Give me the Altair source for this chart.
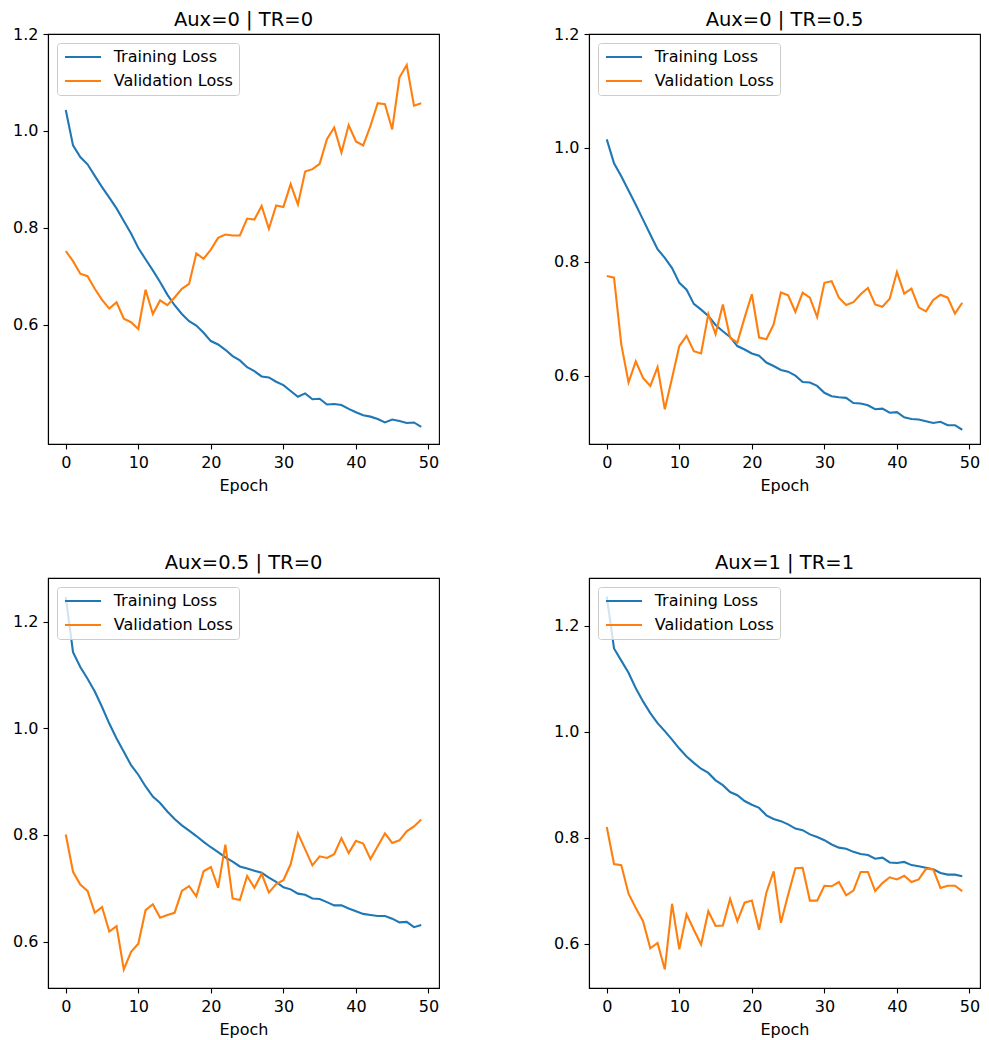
import altair as alt
import pandas as pd

epochs = list(range(50))
titles = ["Aux=0 | TR=0", "Aux=0 | TR=0.5", "Aux=0.5 | TR=0", "Aux=1 | TR=1"]
series_names = ["Training Loss", "Validation Loss"]
colors = ["#1f77b4", "#ff7f0e"]
x_ticks = [0, 10, 20, 30, 40, 50]
y_ticks = [0.6, 0.8, 1.0, 1.2]

tr1 = [1.043, 0.970, 0.946, 0.931, 0.907, 0.884, 0.862, 0.840, 0.814, 0.788,
       0.758, 0.735, 0.712, 0.688, 0.662, 0.640, 0.622, 0.607, 0.598, 0.583,
       0.566, 0.559, 0.548, 0.535, 0.526, 0.512, 0.504, 0.493, 0.491, 0.482,
       0.475, 0.463, 0.451, 0.458, 0.446, 0.447, 0.435, 0.436, 0.434, 0.426,
       0.419, 0.413, 0.410, 0.405, 0.398, 0.404, 0.401, 0.397, 0.398, 0.389]
va1 = [0.752, 0.731, 0.705, 0.700, 0.674, 0.651, 0.633, 0.646, 0.612, 0.605,
       0.591, 0.672, 0.622, 0.650, 0.640, 0.656, 0.674, 0.684, 0.747, 0.736,
       0.755, 0.779, 0.786, 0.784, 0.784, 0.819, 0.817, 0.845, 0.798, 0.846,
       0.843, 0.890, 0.848, 0.916, 0.921, 0.932, 0.983, 1.007, 0.955, 1.012,
       0.978, 0.970, 1.010, 1.057, 1.055, 1.003, 1.110, 1.136, 1.052, 1.057]

tr2 = [1.015, 0.973, 0.950, 0.925, 0.900, 0.874, 0.848, 0.822, 0.807, 0.789,
       0.763, 0.751, 0.726, 0.716, 0.705, 0.689, 0.678, 0.668, 0.652, 0.646,
       0.639, 0.635, 0.623, 0.617, 0.610, 0.607, 0.600, 0.589, 0.588, 0.582,
       0.570, 0.564, 0.562, 0.561, 0.552, 0.551, 0.548, 0.541, 0.542, 0.535,
       0.536, 0.527, 0.524, 0.523, 0.520, 0.517, 0.519, 0.513, 0.513, 0.505]
va2 = [0.775, 0.772, 0.655, 0.588, 0.625, 0.596, 0.582, 0.615, 0.541, 0.596,
       0.652, 0.670, 0.643, 0.639, 0.708, 0.673, 0.725, 0.667, 0.658, 0.702,
       0.743, 0.667, 0.664, 0.690, 0.746, 0.741, 0.712, 0.746, 0.737, 0.703,
       0.763, 0.766, 0.737, 0.724, 0.729, 0.743, 0.754, 0.725, 0.721, 0.735,
       0.782, 0.744, 0.753, 0.720, 0.713, 0.733, 0.742, 0.737, 0.709, 0.728]

tr3 = [1.246, 1.143, 1.115, 1.093, 1.069, 1.040, 1.009, 0.981, 0.956, 0.931,
       0.913, 0.891, 0.872, 0.860, 0.844, 0.830, 0.818, 0.808, 0.798, 0.787,
       0.777, 0.768, 0.758, 0.750, 0.741, 0.737, 0.733, 0.729, 0.720, 0.712,
       0.702, 0.698, 0.690, 0.688, 0.681, 0.680, 0.674, 0.668, 0.668, 0.662,
       0.657, 0.652, 0.650, 0.648, 0.648, 0.643, 0.636, 0.637, 0.627, 0.631]
va3 = [0.801, 0.731, 0.707, 0.695, 0.654, 0.665, 0.619, 0.629, 0.548, 0.581,
       0.596, 0.659, 0.670, 0.645, 0.650, 0.654, 0.695, 0.704, 0.685, 0.732,
       0.740, 0.701, 0.782, 0.681, 0.678, 0.723, 0.701, 0.727, 0.692, 0.708,
       0.715, 0.745, 0.803, 0.773, 0.743, 0.760, 0.757, 0.764, 0.794, 0.766,
       0.789, 0.784, 0.755, 0.779, 0.803, 0.785, 0.790, 0.807, 0.816, 0.829]

tr4 = [1.255, 1.157, 1.134, 1.111, 1.082, 1.057, 1.035, 1.016, 1.001, 0.985,
       0.968, 0.953, 0.941, 0.930, 0.922, 0.908, 0.899, 0.886, 0.880, 0.869,
       0.862, 0.856, 0.842, 0.835, 0.831, 0.825, 0.817, 0.814, 0.806, 0.801,
       0.795, 0.787, 0.781, 0.779, 0.773, 0.769, 0.767, 0.760, 0.762, 0.753,
       0.752, 0.754, 0.748, 0.746, 0.743, 0.740, 0.733, 0.730, 0.730, 0.727]
va4 = [0.820, 0.750, 0.748, 0.694, 0.667, 0.642, 0.591, 0.601, 0.551, 0.675,
       0.589, 0.655, 0.626, 0.598, 0.661, 0.633, 0.634, 0.684, 0.642, 0.677,
       0.681, 0.626, 0.696, 0.736, 0.639, 0.692, 0.742, 0.743, 0.681, 0.681,
       0.709, 0.708, 0.716, 0.691, 0.700, 0.735, 0.735, 0.699, 0.714, 0.725,
       0.721, 0.728, 0.716, 0.721, 0.741, 0.740, 0.705, 0.709, 0.709, 0.699]

y_domains = [[0.3535, 1.2], [0.48, 1.2], [0.513, 1.282], [0.516, 1.29]]
x_domain = [-2.45, 51.45]
# top-row panels have the "1.2" label on the top edge, which pushes the title up
title_offsets = [-4, -4, 5, 5]

FONT = "DejaVu Sans"


def panel(title, train, val, ydom, toff):
    df = pd.DataFrame({
        "epoch": epochs + epochs,
        "loss": train + val,
        "series": [series_names[0]] * len(train) + [series_names[1]] * len(val),
    })
    return alt.Chart(df).mark_line(strokeWidth=2.1).encode(
        x=alt.X("epoch:Q",
                scale=alt.Scale(domain=x_domain, nice=False, zero=False),
                axis=alt.Axis(values=x_ticks, title="Epoch", labelPadding=5, titlePadding=7)),
        y=alt.Y("loss:Q",
                scale=alt.Scale(domain=ydom, nice=False, zero=False),
                axis=alt.Axis(values=y_ticks, format=".1f", title=None, labelPadding=5)),
        color=alt.Color("series:N",
                        scale=alt.Scale(domain=series_names, range=colors),
                        title=None,
                        legend=alt.Legend(orient="top-left", offset=9, padding=6,
                                          rowPadding=8, labelFontSize=16, labelFont=FONT,
                                          labelColor="black", symbolType="M-1,0H5",
                                          symbolSize=144, symbolStrokeWidth=2,
                                          labelOffset=34.7,
                                          fillColor="rgba(255,255,255,0.8)",
                                          strokeColor="#cccccc", cornerRadius=3,
                                          labelLimit=300)),
    ).properties(width=391, height=410,
                 title=alt.TitleParams(title, offset=toff))


panels = [
    panel(titles[i], tr, va, y_domains[i], title_offsets[i])
    for i, (tr, va) in enumerate([(tr1, va1), (tr2, va2), (tr3, va3), (tr4, va4)])
]

chart = alt.concat(
    *panels, columns=2, spacing={"row": 134, "column": 150}, bounds="flush"
).resolve_scale(color="independent").properties(
    padding={"left": 4, "top": 0, "right": 0, "bottom": 0}
).configure_view(
    stroke="black", strokeWidth=1.1
).configure_axis(
    grid=False, domainColor="black", domainWidth=1.1, tickColor="black",
    tickWidth=1.1, tickSize=5, labelFont=FONT, labelFontSize=16,
    labelColor="black", titleFont=FONT, titleFontSize=16,
    titleFontWeight="normal", titleColor="black"
).configure_title(
    font=FONT, fontSize=19.5, fontWeight="normal", color="black",
    anchor="middle", baseline="bottom", frame="group"
)

chart.save("out.html", embed_options={"renderer": "svg", "actions": False})
